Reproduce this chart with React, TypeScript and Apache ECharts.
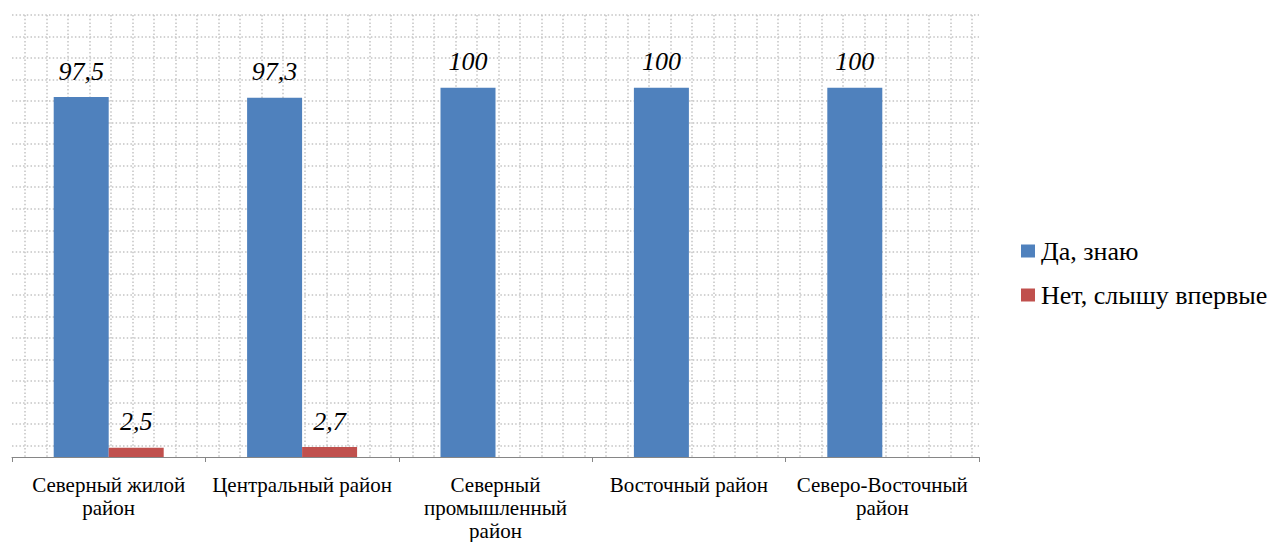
import React, { useEffect, useRef } from "react";
import * as echarts from "echarts";

const categories = [
  "Северный жилой\nрайон",
  "Центральный район",
  "Северный\nпромышленный\nрайон",
  "Восточный район",
  "Северо-Восточный\nрайон",
];
const seriesNames = ["Да, знаю", "Нет, слышу впервые"];
const yesValues = [97.5, 97.3, 100, 100, 100];
const noValues: (number | null)[] = [2.5, 2.7, null, null, null];

const FONT = "Liberation Serif";

export default function App() {
  const ref = useRef<HTMLDivElement>(null);
  useEffect(() => {
    document.body.style.margin = "0";
    const chart = echarts.init(ref.current!, null, { renderer: "svg" });
    const dotted = { color: "#c4c4c4", width: 1.5, type: [1.5, 2.2] as any };
    const label = {
      show: true,
      position: "top",
      distance: 13,
      fontFamily: FONT,
      fontStyle: "italic",
      fontSize: 26,
      color: "#000",
      formatter: (p: any) => String(p.value).replace(".", ","),
    };
    chart.setOption({
      animation: false,
      textStyle: { fontFamily: FONT },
      grid: [
        { left: 12, top: 14, width: 967, height: 444 },
        { left: 3.48, top: 15, width: 975.52, height: 443 },
        { left: 12, top: 15, width: 967, height: 430.6 },
      ],
      xAxis: [
        {
          type: "category",
          gridIndex: 0,
          data: categories,
          axisLine: { lineStyle: { color: "#868686", width: 1 } },
          axisTick: { show: true, length: 5, lineStyle: { color: "#868686" } },
          axisLabel: {
            interval: 0,
            margin: 16,
            fontFamily: FONT,
            fontSize: 21,
            lineHeight: 23,
            color: "#000",
          },
          splitLine: { show: false },
        },
        {
          type: "value",
          gridIndex: 1,
          min: 0,
          max: 45.33,
          interval: 1,
          axisLine: { show: false },
          axisTick: { show: false },
          axisLabel: { show: false },
          splitLine: { show: true, showMinLine: false, showMaxLine: false, lineStyle: dotted },
        },
        {
          type: "value",
          gridIndex: 2,
          min: 0,
          max: 1,
          show: false,
        },
      ],
      yAxis: [
        {
          type: "value",
          gridIndex: 0,
          min: 0,
          max: 120,
          show: false,
          splitLine: { show: false },
        },
        {
          type: "value",
          gridIndex: 1,
          min: 0,
          max: 1,
          show: false,
        },
        {
          type: "value",
          gridIndex: 2,
          min: 0,
          max: 20,
          interval: 1,
          axisLine: { show: false },
          axisTick: { show: false },
          axisLabel: { show: false },
          splitLine: { show: true, lineStyle: dotted },
        },
      ],
      legend: {
        orient: "vertical",
        left: 1021,
        top: 238,
        padding: 0,
        icon: "rect",
        itemWidth: 14,
        itemHeight: 13,
        itemGap: 18,
        textStyle: { fontFamily: FONT, fontSize: 26, lineHeight: 26, color: "#000", padding: [0, 0, 0, 1] },
        data: seriesNames,
      },
      series: [
        {
          name: seriesNames[0],
          type: "bar",
          xAxisIndex: 0,
          yAxisIndex: 0,
          data: yesValues,
          barWidth: 55,
          barGap: "0%",
          itemStyle: { color: "#4F81BD" },
          label,
        },
        {
          name: seriesNames[1],
          type: "bar",
          xAxisIndex: 0,
          yAxisIndex: 0,
          data: noValues,
          barWidth: 55,
          barGap: "0%",
          itemStyle: { color: "#C0504D" },
          label,
        },
      ],
    });
    return () => chart.dispose();
  }, []);
  return <div ref={ref} style={{ width: 1277, height: 542 }} />;
}
